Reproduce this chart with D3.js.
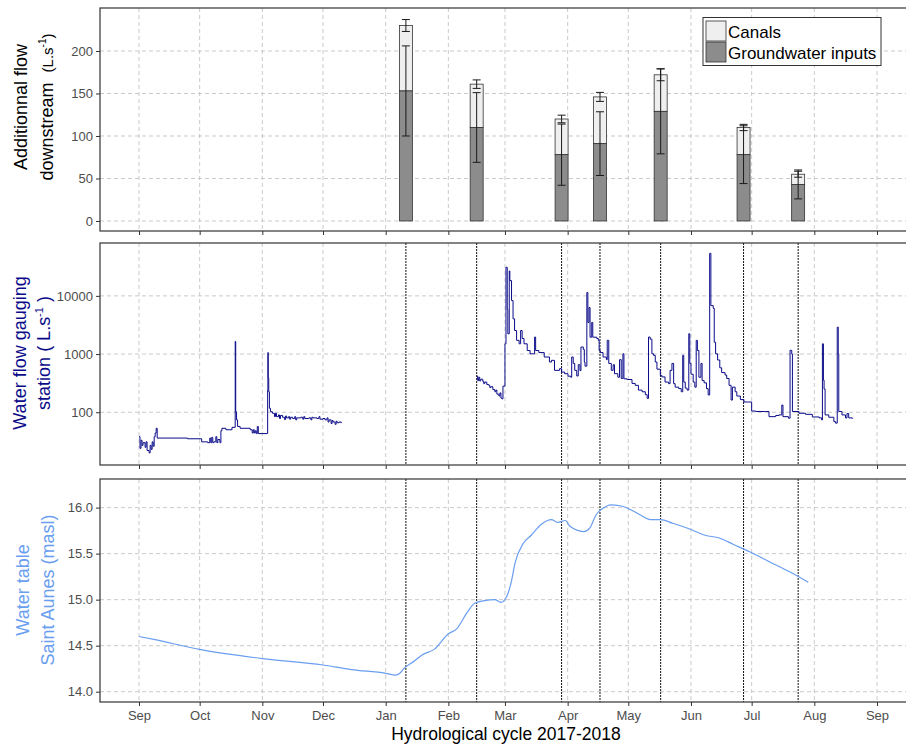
<!DOCTYPE html>
<html>
<head>
<meta charset="utf-8">
<script src="https://cdnjs.cloudflare.com/ajax/libs/d3/7.8.5/d3.min.js"></script>
<style>
  body { margin: 0; background: #fff; }
  svg { display: block; font-family: 'Liberation Sans', Arial, sans-serif; }
  .grid line { stroke: #c4c4c4; stroke-width: 0.9; stroke-dasharray: 4,3; }
  .axis path { display: none; }
  .axis line { stroke: #333; }
  .axis text { fill: #4d4d4d; font-size: 13px; }
  .border { fill: none; stroke: #333; stroke-width: 1.2; }
  .sampling { stroke: #111; stroke-width: 1; stroke-dasharray: 2,1; }
</style>
</head>
<body>
<div id="chart"></div>
<script>
// ---- data ----
var sampleDates = ['2018-01-11', '2018-02-15', '2018-03-29', '2018-04-17', '2018-05-17', '2018-06-27', '2018-07-24'];
var groundwater = [153, 110, 78, 91, 129, 78, 43];
var groundwaterErr = [53, 41, 36, 37.5, 50, 34, 17];
var canals = [77, 51, 42, 55, 43, 32, 12];
var totalErr = [7, 5, 4.5, 5.3, 7, 3.7, 3.5];

var flowDatesA = ['2017-09-01 00', '2017-09-01 12', '2017-09-02 00', '2017-09-02 12', '2017-09-03 00', '2017-09-04 00',
  '2017-09-04 12', '2017-09-05 00', '2017-09-06 00', '2017-09-06 12', '2017-09-07 00', '2017-09-07 12', '2017-09-08 00',
  '2017-09-08 12', '2017-09-09 00', '2017-09-09 12', '2017-09-10 00', '2017-09-25 00', '2017-10-02 00', '2017-10-05 00',
  '2017-10-06 00', '2017-10-06 12', '2017-10-07 00', '2017-10-07 12', '2017-10-08 00', '2017-10-09 00', '2017-10-09 12',
  '2017-10-10 00', '2017-10-11 00', '2017-10-11 12', '2017-10-12 00', '2017-10-14 00', '2017-10-17 00', '2017-10-18 14',
  '2017-10-18 20', '2017-10-19 06', '2017-10-19 18', '2017-10-21 00', '2017-10-26 00', '2017-10-27 00', '2017-10-27 12',
  '2017-10-28 00', '2017-10-28 12', '2017-10-29 00', '2017-10-29 12', '2017-10-30 00', '2017-11-03 12', '2017-11-03 15',
  '2017-11-03 18', '2017-11-03 22', '2017-11-04 04', '2017-11-04 12', '2017-11-05 00', '2017-11-06 00', '2017-11-07 00',
  '2017-11-07 12', '2017-11-08 00', '2017-11-09 00', '2017-11-09 12', '2017-11-10 00', '2017-11-11 00', '2017-11-12 00',
  '2017-11-12 12', '2017-11-13 00', '2017-11-14 00', '2017-11-14 12', '2017-11-15 00', '2017-11-16 00', '2017-11-17 00',
  '2017-11-17 12', '2017-11-18 00', '2017-11-20 00', '2017-11-21 00', '2017-11-21 12', '2017-11-22 00', '2017-11-24 00',
  '2017-11-25 00', '2017-11-25 12', '2017-11-26 00', '2017-11-28 00', '2017-11-29 00', '2017-11-29 12', '2017-12-01 00',
  '2017-12-02 00', '2017-12-03 00', '2017-12-03 12', '2017-12-04 00', '2017-12-05 00', '2017-12-05 12', '2017-12-06 00',
  '2017-12-07 00', '2017-12-07 12', '2017-12-08 00', '2017-12-09 00', '2017-12-10 00'];
var flowValuesA = [38, 24, 33, 27, 30, 25,
  31, 22, 20, 27, 23, 31, 26,
  38, 44, 53, 36, 35, 31, 30,
  36, 30, 37, 30, 31, 38, 30,
  34, 30, 48, 53, 50, 55, 1650,
  102, 74, 57, 53, 50, 44, 50,
  44, 48, 43, 57, 43, 43, 240,
  1060, 385, 225, 117, 102, 96, 84,
  96, 84, 90, 78, 88, 82, 75,
  86, 80, 84, 76, 82, 78, 84,
  74, 80, 82, 76, 84, 78, 80,
  74, 82, 80, 78, 84, 76, 78,
  74, 80, 68, 74, 64, 72, 68,
  62, 70, 66, 68, 65];

var flowDatesB = ['2018-02-15 00', '2018-02-15 12', '2018-02-16 00', '2018-02-16 12', '2018-02-17 00', '2018-02-18 00',
  '2018-02-18 12', '2018-02-19 00', '2018-02-20 00', '2018-02-21 00', '2018-02-21 12', '2018-02-22 00', '2018-02-23 00',
  '2018-02-24 00', '2018-02-24 12', '2018-02-25 00', '2018-02-26 00', '2018-02-26 12', '2018-02-27 00', '2018-02-27 12',
  '2018-02-28 00', '2018-03-01 00', '2018-03-01 12', '2018-03-02 03', '2018-03-02 10', '2018-03-03 03', '2018-03-03 10',
  '2018-03-04 06', '2018-03-05 00', '2018-03-05 18', '2018-03-06 18', '2018-03-08 00', '2018-03-08 18', '2018-03-09 12',
  '2018-03-10 10', '2018-03-12 00', '2018-03-13 10', '2018-03-15 16', '2018-03-16 04', '2018-03-17 18', '2018-03-20 10',
  '2018-03-23 00', '2018-03-24 00', '2018-03-25 12', '2018-03-28 00', '2018-03-29 00', '2018-03-30 12', '2018-04-01 04',
  '2018-04-02 12', '2018-04-03 00', '2018-04-03 18', '2018-04-04 12', '2018-04-05 12', '2018-04-06 06', '2018-04-07 02',
  '2018-04-07 14', '2018-04-08 18', '2018-04-09 06', '2018-04-09 14', '2018-04-10 12', '2018-04-11 00', '2018-04-11 14',
  '2018-04-12 02', '2018-04-12 22', '2018-04-13 10', '2018-04-15 10', '2018-04-16 04', '2018-04-16 14', '2018-04-17 04',
  '2018-04-18 12', '2018-04-20 04', '2018-04-20 14', '2018-04-21 08', '2018-04-22 14', '2018-04-23 12', '2018-04-24 04',
  '2018-04-25 20', '2018-04-26 16', '2018-04-27 12', '2018-04-28 08', '2018-04-28 20', '2018-04-30 10', '2018-05-02 20',
  '2018-05-04 10', '2018-05-06 00', '2018-05-07 20', '2018-05-09 10', '2018-05-10 08', '2018-05-11 00', '2018-05-11 20',
  '2018-05-12 16', '2018-05-13 12', '2018-05-14 08', '2018-05-15 04', '2018-05-16 20', '2018-05-17 14', '2018-05-19 04',
  '2018-05-20 22', '2018-05-21 16', '2018-05-22 14', '2018-05-23 10', '2018-05-24 04', '2018-05-25 22', '2018-05-27 04',
  '2018-05-27 22', '2018-05-28 10', '2018-05-29 04', '2018-05-30 02', '2018-05-30 22', '2018-05-31 10', '2018-06-01 00',
  '2018-06-02 02', '2018-06-02 22', '2018-06-03 14', '2018-06-04 04', '2018-06-04 22', '2018-06-05 22', '2018-06-06 12',
  '2018-06-07 12', '2018-06-08 16', '2018-06-09 12', '2018-06-10 06', '2018-06-10 20', '2018-06-12 00', '2018-06-12 12',
  '2018-06-13 04', '2018-06-14 04', '2018-06-15 06', '2018-06-16 04', '2018-06-17 20', '2018-06-18 16', '2018-06-19 20',
  '2018-06-20 20', '2018-06-21 12', '2018-06-22 20', '2018-06-23 16', '2018-06-25 10', '2018-06-27 04', '2018-06-29 12',
  '2018-07-01 00', '2018-07-03 00', '2018-07-07 22', '2018-07-09 14', '2018-07-12 22', '2018-07-14 12', '2018-07-15 22',
  '2018-07-16 12', '2018-07-19 04', '2018-07-20 00', '2018-07-20 20', '2018-07-21 04', '2018-07-24 10', '2018-07-27 16',
  '2018-07-31 00', '2018-08-03 10', '2018-08-04 14', '2018-08-05 00', '2018-08-05 12', '2018-08-05 20', '2018-08-06 08',
  '2018-08-08 04', '2018-08-10 16', '2018-08-11 12', '2018-08-12 08', '2018-08-12 20', '2018-08-13 02', '2018-08-14 16',
  '2018-08-16 10', '2018-08-17 04', '2018-08-18 00', '2018-08-19 16', '2018-08-20 00'];
var flowValuesB = [417, 350, 400, 345, 370, 340,
  310, 330, 300, 290, 265, 275, 245,
  225, 240, 205, 190, 215, 175, 170,
  281, 1500, 31000, 5900, 2230, 26800, 18300,
  8300, 4030, 2540, 1720, 1500, 2540, 1850,
  1500, 1150, 1010, 1960, 1150, 1060, 890,
  730, 780, 525, 560, 490, 460, 417,
  400, 890, 690, 525, 420, 655, 520,
  1320, 1200, 730, 620, 11400, 3500, 6300,
  1950, 3500, 1950, 1850, 1720, 1150, 1060,
  890, 800, 1720, 690, 525, 655, 460,
  400, 800, 380, 1010, 375, 365, 313,
  290, 240, 225, 200, 173, 1960, 1800,
  1010, 950, 730, 550, 430, 405, 330,
  310, 525, 690, 310, 270, 255, 225,
  950, 330, 260, 240, 2230, 690, 450,
  330, 270, 1720, 1150, 400, 690, 350,
  320, 255, 198, 53700, 6800, 6100, 1600,
  1010, 790, 580, 480, 435, 380, 290,
  162, 270, 225, 190, 165, 150, 150,
  105, 103, 103, 84, 88, 90, 133,
  84, 79, 1160, 1000, 103, 96, 92,
  83, 80, 74, 1500, 355, 250, 90,
  82, 69, 65, 2900, 1010, 103, 90,
  80, 95, 80, 79, 78];

var tableDates = ['2017-09-01', '2017-09-09', '2017-10-01', '2017-11-01', '2017-12-01', '2017-12-15', '2018-01-01',
  '2018-01-06', '2018-01-08', '2018-01-10', '2018-01-15', '2018-01-19', '2018-01-25', '2018-02-01', '2018-02-05',
  '2018-02-10', '2018-02-14', '2018-02-19', '2018-02-24', '2018-02-27', '2018-03-01', '2018-03-04', '2018-03-06',
  '2018-03-10', '2018-03-14', '2018-03-19', '2018-03-24', '2018-03-27', '2018-03-31', '2018-04-02', '2018-04-09',
  '2018-04-12', '2018-04-15', '2018-04-19', '2018-04-22', '2018-04-27', '2018-05-02', '2018-05-07', '2018-05-12',
  '2018-05-17', '2018-05-23', '2018-05-31', '2018-06-08', '2018-06-15', '2018-06-22', '2018-06-30', '2018-07-10',
  '2018-07-20', '2018-07-29'];
var tableValues = [14.60, 14.565, 14.46, 14.36, 14.29, 14.24, 14.20,
  14.18, 14.20, 14.25, 14.33, 14.40, 14.46, 14.63, 14.68,
  14.85, 14.96, 14.99, 15.00, 14.97, 15.00, 15.18, 15.40,
  15.61, 15.70, 15.82, 15.87, 15.84, 15.86, 15.80, 15.74,
  15.78, 15.92, 16.00, 16.03, 16.02, 15.98, 15.92, 15.87,
  15.87, 15.83, 15.77, 15.70, 15.67, 15.60, 15.52, 15.41,
  15.30, 15.19];

var barTicks = [0, 50, 100, 150, 200];
var flowTicks = [100, 1000, 10000];
var tableTicks = [14.0, 14.5, 15.0, 15.5, 16.0];

// ---- layout ----
var parseHour = d3.utcParse('%Y-%m-%d %H');
var parseDay = d3.utcParse('%Y-%m-%d');
var width = 906, height = 747;
var left = 100, right = 912;
var flowColor = '#0b0b8a', tableColor = '#6a9ef0';

var svg = d3.select('#chart').append('svg')
    .attr('width', width)
    .attr('height', height);

var x = d3.scaleUtc()
    .domain([parseDay('2017-09-01'), parseDay('2018-09-01')])
    .range([139, 877]);
var months = x.ticks(d3.utcMonth.every(1));

var yBar = d3.scaleLinear().domain([-11.8, 250.6]).range([231, 8]);
var yFlow = d3.scaleLog().domain([12.4, 81000]).range([465, 243]);
var yTable = d3.scaleLinear().domain([13.888, 16.311]).range([702, 479]);

function panel(y, ticks, fmt, showMonths) {
  var top = y.range()[1], bottom = y.range()[0];
  var g = svg.append('g');
  var grid = g.append('g').attr('class', 'grid');
  grid.selectAll('line.gx').data(months).enter().append('line')
      .attr('x1', function(d) { return x(d); })
      .attr('x2', function(d) { return x(d); })
      .attr('y1', top).attr('y2', bottom);
  grid.selectAll('line.gy').data(ticks).enter().append('line')
      .attr('x1', left).attr('x2', right)
      .attr('y1', function(d) { return y(d); })
      .attr('y2', function(d) { return y(d); });

  g.append('g')
      .attr('class', 'axis')
      .attr('transform', 'translate(' + left + ',0)')
      .call(d3.axisLeft(y).tickValues(ticks).tickSize(4).tickPadding(3).tickFormat(fmt));
  g.append('g')
      .attr('class', 'axis')
      .attr('transform', 'translate(0,' + bottom + ')')
      .call(d3.axisBottom(x).tickValues(months).tickSize(4).tickPadding(5)
        .tickFormat(showMonths ? d3.utcFormat('%b') : ''));
  return g;
}

function border(g, y) {
  g.append('rect')
      .attr('class', 'border')
      .attr('x', left)
      .attr('y', y.range()[1])
      .attr('width', right - left)
      .attr('height', y.range()[0] - y.range()[1]);
}

function samplingLines(g, y) {
  g.selectAll('line.sampling').data(sampleDates).enter().append('line')
      .attr('class', 'sampling')
      .attr('x1', function(d) { return x(parseDay(d)); })
      .attr('x2', function(d) { return x(parseDay(d)); })
      .attr('y1', y.range()[1]).attr('y2', y.range()[0]);
}

function yTitle(cx, cy, color, lines) {
  var t = svg.append('g')
      .attr('transform', 'translate(' + cx + ',' + cy + ') rotate(-90)');
  lines.forEach(function(line) {
    var txt = t.append('text')
        .attr('y', line.dy)
        .attr('text-anchor', 'middle')
        .attr('fill', color)
        .style('font-size', '18px');
    line.parts.forEach(function(p) {
      txt.append('tspan')
          .attr('dy', p.shift || 0)
          .style('font-size', p.size || '18px')
          .text(p.text);
    });
  });
}

// ---- panel 1 : additional flow bars ----
var bars = sampleDates.map(function(d, i) {
  return { date: parseDay(d), gw: groundwater[i], gwErr: groundwaterErr[i],
           total: groundwater[i] + canals[i], totErr: totalErr[i] };
});
var p1 = panel(yBar, barTicks, d3.format('d'), false);
var barW = 13, capW = 8;

var bar = p1.selectAll('g.bar').data(bars).enter().append('g')
    .attr('class', 'bar')
    .attr('transform', function(d) { return 'translate(' + x(d.date) + ',0)'; });
bar.append('rect')
    .attr('x', -barW / 2).attr('width', barW)
    .attr('y', function(d) { return yBar(d.total); })
    .attr('height', function(d) { return yBar(d.gw) - yBar(d.total); })
    .attr('fill', '#efefef').attr('stroke', '#333').attr('stroke-width', 0.8);
bar.append('rect')
    .attr('x', -barW / 2).attr('width', barW)
    .attr('y', function(d) { return yBar(d.gw); })
    .attr('height', function(d) { return yBar(0) - yBar(d.gw); })
    .attr('fill', '#8c8c8c').attr('stroke', '#333').attr('stroke-width', 0.8);

function errorBar(sel, mid, err) {
  sel.append('path')
      .attr('fill', 'none').attr('stroke', '#1a1a1a').attr('stroke-width', 1)
      .attr('d', function(d) {
        var a = yBar(d[mid] + d[err]), b = yBar(d[mid] - d[err]);
        return 'M' + (-capW / 2) + ',' + a + 'H' + (capW / 2) +
               'M0,' + a + 'V' + b +
               'M' + (-capW / 2) + ',' + b + 'H' + (capW / 2);
      });
}
errorBar(bar, 'gw', 'gwErr');
errorBar(bar, 'total', 'totErr');
border(p1, yBar);

var legend = svg.append('g').attr('transform', 'translate(703,17.5)');
legend.append('rect')
    .attr('width', 178).attr('height', 48)
    .attr('fill', '#fff').attr('stroke', '#333').attr('stroke-width', 1);
var legendItems = [{ label: 'Canals', fill: '#efefef' }, { label: 'Groundwater inputs', fill: '#8c8c8c' }];
var li = legend.selectAll('g.item').data(legendItems).enter().append('g')
    .attr('transform', function(d, i) { return 'translate(3,' + (3.5 + i * 21) + ')'; });
li.append('rect')
    .attr('width', 20).attr('height', 20)
    .attr('fill', function(d) { return d.fill; })
    .attr('stroke', '#333').attr('stroke-width', 0.8);
li.append('text')
    .attr('x', 22).attr('y', 16.5)
    .style('font-size', '17px')
    .attr('fill', '#000')
    .text(function(d) { return d.label; });

yTitle(27, 107, '#000', [
  { dy: 0, parts: [{ text: 'Additionnal flow' }] },
  { dy: 26, parts: [{ text: 'downstream\u00a0\u00a0' }, { text: '(L.s', size: '15px' },
    { text: '-1', size: '10px', shift: -7 }, { text: ')', size: '15px', shift: 7 }] }
]);

// ---- panel 2 : water flow gauging station ----
var flowA = flowDatesA.map(function(d, i) { return { date: parseHour(d), v: flowValuesA[i] }; });
var flowB = flowDatesB.map(function(d, i) { return { date: parseHour(d), v: flowValuesB[i] }; });
var p2 = panel(yFlow, flowTicks, d3.format('d'), false);
samplingLines(p2, yFlow);
var flowLine = d3.line()
    .x(function(d) { return x(d.date); })
    .y(function(d) { return yFlow(d.v); })
    .curve(d3.curveStepAfter);
p2.selectAll('path.flow').data([flowA, flowB]).enter().append('path')
    .attr('class', 'flow')
    .attr('fill', 'none')
    .attr('stroke', flowColor)
    .attr('stroke-width', 1)
    .attr('d', flowLine);
border(p2, yFlow);

yTitle(26, 353, flowColor, [
  { dy: 0, parts: [{ text: 'Water flow gauging' }] },
  { dy: 24, parts: [{ text: 'station ( L.s' }, { text: '-1', size: '11px', shift: -7 }, { text: ' )', shift: 7 }] }
]);

// ---- panel 3 : water table ----
var table = tableDates.map(function(d, i) { return { date: parseDay(d), v: tableValues[i] }; });
var p3 = panel(yTable, tableTicks, d3.format('.1f'), true);
samplingLines(p3, yTable);
p3.append('path')
    .datum(table)
    .attr('fill', 'none')
    .attr('stroke', tableColor)
    .attr('stroke-width', 1.2)
    .attr('d', d3.line()
      .x(function(d) { return x(d.date); })
      .y(function(d) { return yTable(d.v); })
      .curve(d3.curveMonotoneX));
border(p3, yTable);

yTitle(29, 590, tableColor, [
  { dy: 0, parts: [{ text: 'Water table' }] },
  { dy: 25, parts: [{ text: 'Saint Aunes (masl)' }] }
]);

svg.append('text')
    .attr('x', 506).attr('y', 740)
    .attr('text-anchor', 'middle')
    .style('font-size', '17.5px')
    .attr('fill', '#000')
    .text('Hydrological cycle 2017-2018');
</script>
</body>
</html>
